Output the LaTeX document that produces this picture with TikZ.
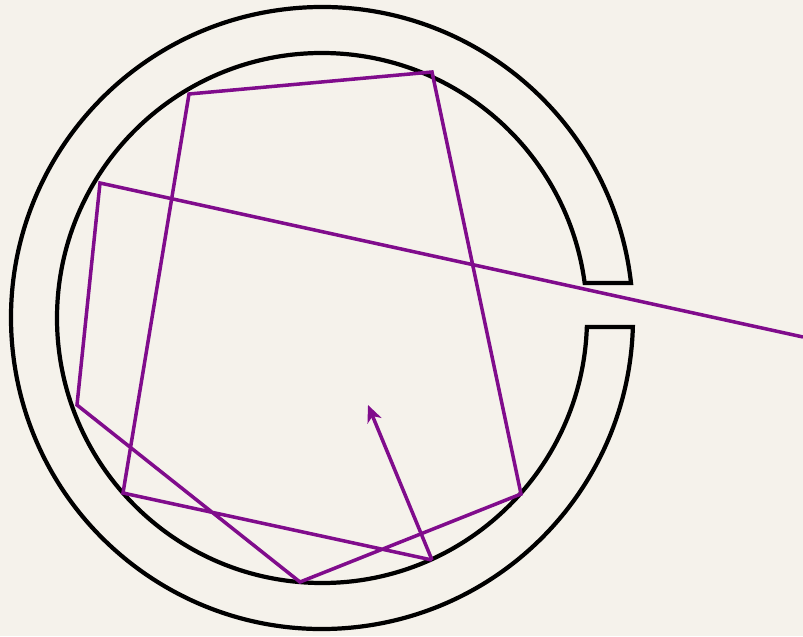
\documentclass[tikz,border=0pt]{standalone}
\usepackage{tikz}
\usetikzlibrary{arrows.meta, calc}
\usepackage{xcolor}
\definecolor{papercolor}{RGB}{245,242,235}
\definecolor{raycolor}{RGB}{128,12,140}

\begin{document}
\begin{tikzpicture}[
    x=0.02cm, y=0.02cm,
    ring/.style={draw=black, line width=2.4pt, line join=miter},
    ray/.style={draw=raycolor, line width=2pt, line join=miter},
    raytip/.style={-{Stealth[length=0.34cm, width=0.3cm, inset=0.1cm]}}
]

    % Paper background
    \fill[papercolor] (0,0) rectangle (803,636);
    \useasboundingbox (0,0) rectangle (803,636);

    % Ring with an opening on the right
    \coordinate (ctr) at (322,318);
    \draw[ring] ([shift={(6.46:311)}]ctr) arc[start angle=6.46, end angle=358.34, radius=311]
        -- ([shift={(-1.95:265)}]ctr) arc[start angle=358.05, end angle=7.59, radius=265]
        -- cycle;

    % Bounce points of the ray
    \coordinate (entry) at (803,299);
    \coordinate (b1) at (100,453);
    \coordinate (b2) at (77,231);
    \coordinate (b3) at (300,54);
    \coordinate (b4) at (521,142);
    \coordinate (b5) at (432,564);
    \coordinate (b6) at (189,542);
    \coordinate (b7) at (123,143);
    \coordinate (b8) at (432,76);
    \coordinate (tip) at (368,231);

    % Ray path
    \draw[ray] (entry) -- (b1) -- (b2) -- (b3) -- (b4) -- (b5) -- (b6) -- (b7) -- (b8);
    \draw[ray, raytip] (b8) -- (tip);

\end{tikzpicture}
\end{document}
